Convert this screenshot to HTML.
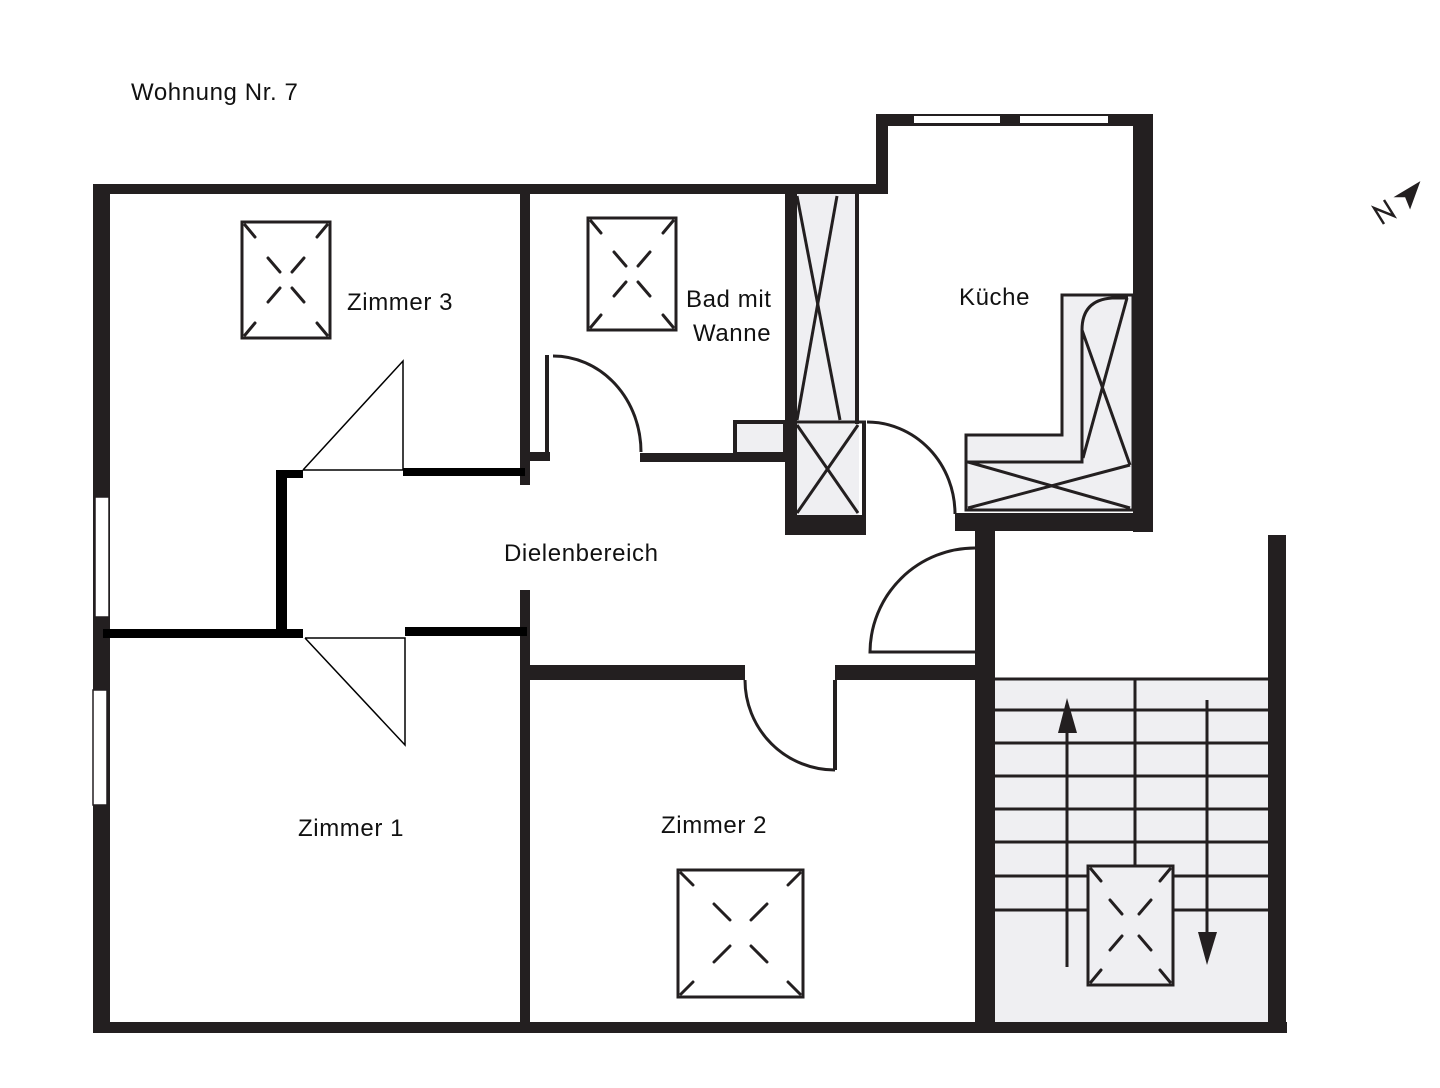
<!DOCTYPE html>
<html><head><meta charset="utf-8"><style>
html,body{margin:0;padding:0;background:#fff;}
svg{display:block;}
text{font-family:"Liberation Sans",sans-serif;font-size:24px;letter-spacing:0.6px;fill:#111;}
</style></head><body>
<svg width="1440" height="1088" viewBox="0 0 1440 1088" xmlns="http://www.w3.org/2000/svg">
<rect width="1440" height="1088" fill="#fff"/>
<g fill="#231f20">
<rect x="93" y="184" width="792" height="10"/>
<rect x="93" y="184" width="17" height="848"/>
<rect x="93" y="1022" width="1194" height="11"/>
<rect x="876" y="114" width="12" height="80"/>
<rect x="876" y="114" width="277" height="12"/>
<rect x="1133" y="114" width="20" height="418"/>
<rect x="955" y="513" width="198" height="18"/>
<rect x="1268" y="535" width="18" height="497"/>
<rect x="975" y="530" width="20" height="502"/>
<rect x="520" y="193" width="10" height="292"/>
<rect x="520" y="590" width="10" height="440"/>
<rect x="530" y="452" width="20" height="9"/>
<rect x="545" y="355" width="4" height="100"/>
<rect x="640" y="453" width="150" height="9"/>
<rect x="530" y="665" width="215" height="15"/>
<rect x="835" y="665" width="140" height="15"/>
<rect x="833" y="680" width="4" height="90"/>
<rect x="785" y="193" width="12" height="342"/>
<rect x="785" y="515" width="80" height="20"/>
<rect x="855" y="193" width="4" height="322"/>
<rect x="862" y="422" width="4" height="113"/>
</g>
<rect x="914" y="116" width="86" height="7" fill="#fff"/>
<rect x="1020" y="116" width="88" height="7" fill="#fff"/>
<rect x="95" y="497" width="14" height="120" fill="#fff" stroke="#231f20" stroke-width="1.5"/>
<rect x="93" y="690" width="14" height="115" fill="#fff" stroke="#231f20" stroke-width="1.5"/>
<rect x="797" y="194" width="58" height="228" fill="#efeff2"/>
<rect x="797" y="424" width="62" height="91" fill="#efeff2"/>
<rect x="735" y="422" width="50" height="32" fill="#efeff2" stroke="#231f20" stroke-width="4"/>
<g stroke="#231f20" stroke-width="3" fill="none">
<line x1="797" y1="422" x2="866" y2="422"/>
<line x1="797" y1="196" x2="840" y2="420"/>
<line x1="837" y1="196" x2="797" y2="420"/>
<line x1="797" y1="425" x2="858" y2="513"/>
<line x1="858" y1="425" x2="797" y2="513"/>
<path d="M553 356 A88 96 0 0 1 641 452"/>
<path d="M867 422 A88 92 0 0 1 955 514"/>
<path d="M975 548 A105 105 0 0 0 870 652 L975 652"/>
<path d="M745 680 A90 90 0 0 0 835 770"/>
</g>
<g fill="#000">
<rect x="403" y="468" width="122" height="8"/>
<rect x="276" y="470" width="27" height="8"/>
<rect x="276" y="470" width="11" height="166"/>
<rect x="103" y="629" width="200" height="9"/>
<rect x="405" y="627" width="122" height="9"/>
</g>
<g stroke="#000" stroke-width="1.5" fill="none">
<polyline points="303,470 403,361 403,470 303,470"/>
<polyline points="305,638 405,745 405,638 305,638"/>
</g>
<polygon points="1062,295 1133,295 1133,510 966,510 966,435 1062,435" fill="#efeff2" stroke="#231f20" stroke-width="3"/>
<g stroke="#231f20" stroke-width="3" fill="none">
<path d="M1128 298 L1112 298 Q1082 300 1082 330 L1082 462 L966 462"/>
<line x1="1127" y1="298" x2="1083" y2="458"/>
<line x1="1082" y1="330" x2="1130" y2="465"/>
<line x1="1130" y1="465" x2="968" y2="508"/>
<line x1="968" y1="462" x2="1130" y2="508"/>
</g>
<rect x="995" y="678" width="273" height="344" fill="#efeff2"/>
<g stroke="#231f20" stroke-width="3">
<line x1="995" y1="679" x2="1268" y2="679"/>
<line x1="995" y1="710" x2="1268" y2="710"/>
<line x1="995" y1="743" x2="1268" y2="743"/>
<line x1="995" y1="776" x2="1268" y2="776"/>
<line x1="995" y1="809" x2="1268" y2="809"/>
<line x1="995" y1="842" x2="1268" y2="842"/>
<line x1="995" y1="876" x2="1268" y2="876"/>
<line x1="995" y1="910" x2="1268" y2="910"/>
<line x1="1135" y1="679" x2="1135" y2="866"/>
<line x1="1067" y1="725" x2="1067" y2="967"/>
<line x1="1207" y1="700" x2="1207" y2="935"/>
</g>
<polygon points="1067,698 1058,733 1077,733" fill="#231f20"/>
<polygon points="1207,965 1198,932 1217,932" fill="#231f20"/>
<g stroke="#231f20" stroke-width="3" fill="#fff">
<rect x="242" y="222" width="88" height="116"/>
<rect x="588" y="218" width="88" height="112" />
<rect x="678" y="870" width="125" height="127"/>
<rect x="1088" y="866" width="85" height="119" fill="#efeff2"/>
</g>
<g stroke="#231f20" stroke-width="3" stroke-linecap="round">
<path d="M245 225 l10 12 M327 225 l-10 12 M245 335 l10 -12 M327 335 l-10 -12 M268 258 l12 14 M304 258 l-12 14 M268 302 l12 -14 M304 302 l-12 -14"/>
<path d="M591 221 l10 12 M673 221 l-10 12 M591 327 l10 -12 M673 327 l-10 -12 M614 252 l12 14 M650 252 l-12 14 M614 296 l12 -14 M650 296 l-12 -14"/>
<path d="M681 873 l12 12 M800 873 l-12 12 M681 994 l12 -12 M800 994 l-12 -12 M714 904 l16 16 M767 904 l-16 16 M714 962 l16 -16 M767 962 l-16 -16"/>
<path d="M1091 869 l10 12 M1170 869 l-10 12 M1091 982 l10 -12 M1170 982 l-10 -12 M1110 900 l12 14 M1151 900 l-12 14 M1110 950 l12 -14 M1151 950 l-12 -14"/>
</g>
<g stroke="#231f20" stroke-width="2.5" fill="none">
<path d="M1384 224 l-10 -16 l20 8 l-10 -16"/>
<path d="M1398 196 L1418 184 L1410 206 L1406 196 Z" fill="#231f20"/>
</g>
<text x="131" y="100">Wohnung Nr. 7</text>
<text x="347" y="310">Zimmer 3</text>
<text x="686" y="307">Bad mit</text>
<text x="693" y="341">Wanne</text>
<text x="959" y="305">Küche</text>
<text x="504" y="561">Dielenbereich</text>
<text x="298" y="836">Zimmer 1</text>
<text x="661" y="833">Zimmer 2</text>
</svg>
</body></html>
